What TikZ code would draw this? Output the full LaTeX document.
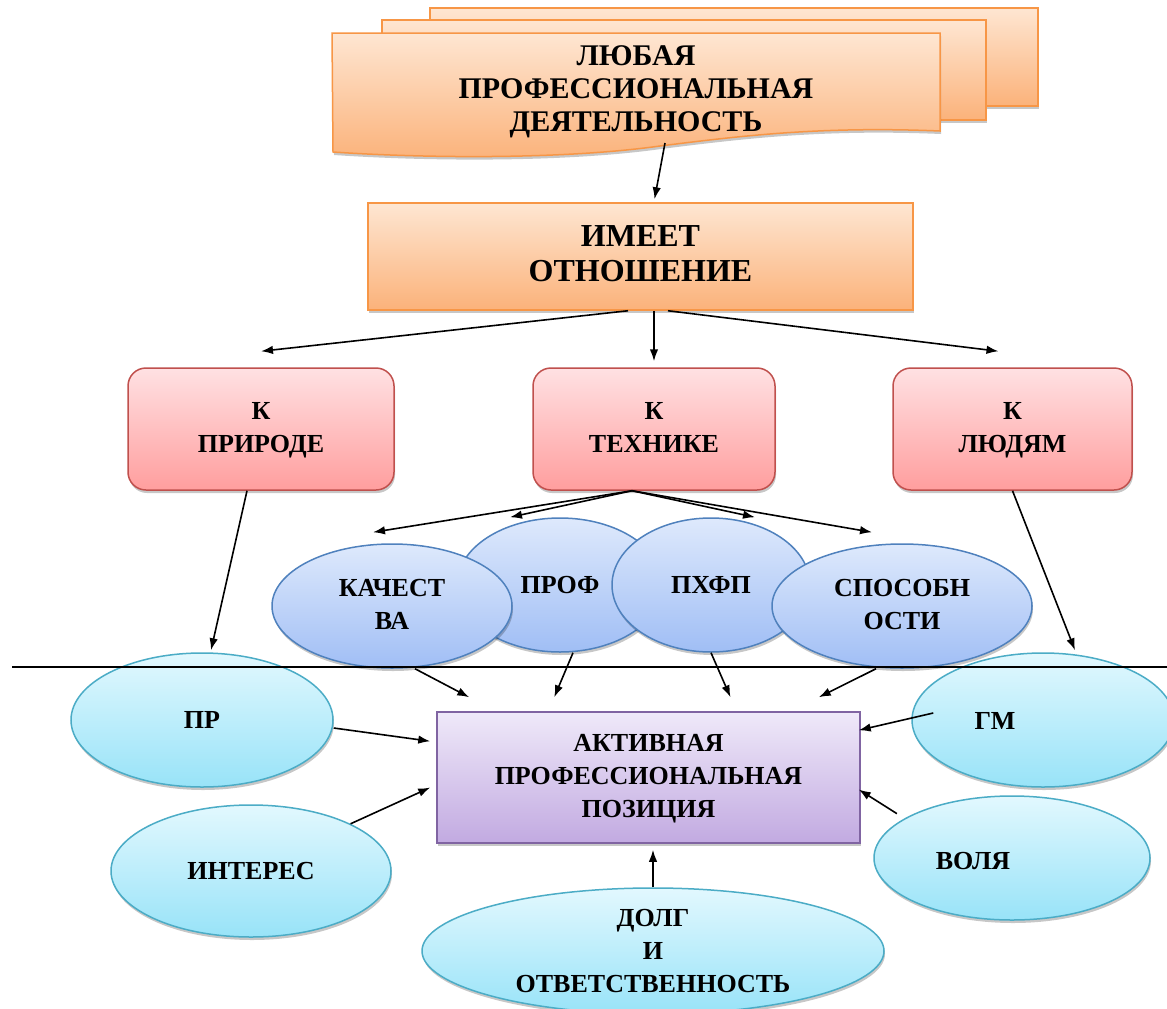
\documentclass[tikz,border=0pt]{standalone}
\usepackage{fontspec}
\setmainfont{Liberation Serif}
\usetikzlibrary{shapes.geometric,arrows.meta,shadows}

\definecolor{orgline}{HTML}{F79646}
\definecolor{orgtop}{HTML}{FEE6D2}
\definecolor{orgbot}{HTML}{FBB27A}
\definecolor{pinkline}{HTML}{C0504D}
\definecolor{pinktop}{HTML}{FFE1E3}
\definecolor{pinkbot}{HTML}{FF9E9E}
\definecolor{blueline}{HTML}{4F81BD}
\definecolor{bluetop}{HTML}{DEE9FC}
\definecolor{bluebot}{HTML}{A0BEF5}
\definecolor{cyanline}{HTML}{4BACC6}
\definecolor{cyantop}{HTML}{E2F8FE}
\definecolor{cyanbot}{HTML}{98E3F8}
\definecolor{violetline}{HTML}{8064A2}
\definecolor{violettop}{HTML}{EFE9F9}
\definecolor{violetbot}{HTML}{C2AAE1}

\tikzset{
  softshadow/.style={drop shadow={shadow xshift=1pt,shadow yshift=-3pt,opacity=.22,fill=black}},
  lbl/.style={font=\bfseries\fontsize{26}{33}\selectfont,align=center,inner sep=0pt},
  orangefill/.style={draw=orgline,line width=1.5pt,top color=orgtop,bottom color=orgbot,softshadow},
  orangebox/.style={orangefill,lbl,rectangle},
  pinkbox/.style={lbl,rectangle,rounded corners=18pt,draw=pinkline,line width=1.5pt,top color=pinktop,bottom color=pinkbot,softshadow,minimum height=122pt},
  blueoval/.style={lbl,ellipse,draw=blueline,line width=1.5pt,top color=bluetop,bottom color=bluebot,softshadow},
  cyanoval/.style={lbl,ellipse,draw=cyanline,line width=1.5pt,top color=cyantop,bottom color=cyanbot,softshadow},
  violetbox/.style={lbl,rectangle,draw=violetline,line width=1.5pt,top color=violettop,bottom color=violetbot,softshadow},
  arr/.style={-{Latex[length=12pt,width=8.5pt]},line width=1.6pt}
}

\begin{document}
\begin{tikzpicture}[x=1pt,y=-1pt]
\useasboundingbox (0,0) rectangle (1167,1009);
\fill[white] (0,0) rectangle (1167,1009);

\path[orangefill] (430,8) rectangle (1038,106);
\path[orangefill] (382,20) rectangle (986,120);
\path[orangefill] (332,33) -- (940,33) -- (940,131) .. controls (820,126) and (740,136) .. (660,146) .. controls (560,160) and (420,158) .. (333,152) -- cycle;
\node[lbl,font=\bfseries\fontsize{30}{33}\selectfont] (doc) at (636,92) {\strut ЛЮБАЯ\\ПРОФЕССИОНАЛЬНАЯ\\ДЕЯТЕЛЬНОСТЬ\strut};
\coordinate (docend) at (665,143);

\node[orangebox,font=\bfseries\fontsize{32}{35}\selectfont,minimum width=545pt,minimum height=107pt] (imeet) at (640.5,256.5) {\strut ИМЕЕТ\\ОТНОШЕНИЕ\strut};

\node[pinkbox,minimum width=266pt] (priroda) at (261,429) {\strut К\\ПРИРОДЕ\strut};
\node[pinkbox,minimum width=242pt] (tehnika) at (654,429) {\strut К\\ТЕХНИКЕ\strut};
\node[pinkbox,minimum width=239pt] (lyudi) at (1012.5,429) {\strut К\\ЛЮДЯМ\strut};

\node[blueoval,minimum width=206pt,minimum height=134pt] (prof) at (560,585) {ПРОФ};
\node[blueoval,minimum width=198pt,minimum height=134pt] (phfp) at (711,585) {ПХФП};
\node[blueoval,minimum width=240pt,minimum height=124pt] (kach) at (392,606) {\strut КАЧЕСТ\\ВА\strut};
\node[blueoval,minimum width=260pt,minimum height=124pt] (sposob) at (902,606) {\strut СПОСОБН\\ОСТИ\strut};

\node[cyanoval,minimum width=262pt,minimum height=134pt] (pr) at (202,720) {ПР};
\node[cyanoval,minimum width=262pt,minimum height=134pt] (gm) at (1043,720) {};
\node[lbl] (gmtext) at (995,721) {ГМ};
\node[cyanoval,minimum width=280pt,minimum height=132pt] (interes) at (251,871) {ИНТЕРЕС};
\node[cyanoval,minimum width=276pt,minimum height=124pt] (volya) at (1012,858) {};
\node[lbl] (volyatext) at (973,861) {ВОЛЯ};
\node[cyanoval,minimum width=462pt,minimum height=126pt] (dolg) at (653,951) {ДОЛГ\\И\\ОТВЕТСТВЕННОСТЬ};

\node[violetbox,minimum width=423pt,minimum height=131pt] (aktiv) at (648.5,777.5) {\strut АКТИВНАЯ\\ПРОФЕССИОНАЛЬНАЯ\\ПОЗИЦИЯ\strut};

\draw[arr] (docend) -- ([xshift=14pt,yshift=3pt]imeet.north);
\draw[arr] ([xshift=-26pt]imeet.south -| tehnika.north) -- ([yshift=16pt]priroda.north);
\draw[arr] (imeet.south -| tehnika.north) -- ([yshift=6pt]tehnika.north);
\draw[arr] ([xshift=14pt]imeet.south -| tehnika.north) -- ([xshift=-14pt,yshift=16pt]lyudi.north);

\draw[arr] ([xshift=-22pt]tehnika.south) -- ([xshift=-19pt,yshift=11pt]kach.north);
\draw[arr] ([xshift=-22pt]tehnika.south) -- ([xshift=-50pt]prof.north);
\draw[arr] ([xshift=-22pt]tehnika.south) -- ([xshift=44pt]phfp.north);
\draw[arr] ([xshift=-22pt]tehnika.south) -- ([xshift=-30pt,yshift=11pt]sposob.north);

\draw[arr] ([xshift=-14pt]priroda.south) -- ([xshift=9pt,yshift=2pt]pr.north);
\draw[arr] (lyudi.south) -- ([xshift=32pt,yshift=2pt]gm.north);

\draw[arr] ([xshift=23pt]kach.south) -- ([xshift=33pt,yshift=14pt]aktiv.north west);
\draw[arr] ([xshift=13pt]prof.south) -- ([xshift=118pt,yshift=14pt]aktiv.north west);
\draw[arr] (phfp.south) -- ([xshift=82pt,yshift=14pt]aktiv.north);
\draw[arr] ([xshift=-26pt]sposob.south) -- ([xshift=-42pt,yshift=14pt]aktiv.north east);
\draw[arr] ([yshift=-8pt]pr.east) -- ([xshift=-6pt,yshift=-30pt]aktiv.north west);
\draw[arr] (interes.north east) -- ([xshift=-6pt,yshift=-10pt]aktiv.west);
\draw[arr] ([xshift=22pt,yshift=7pt]gm.west) -- ([xshift=-2pt,yshift=-19pt]aktiv.north east);
\draw[arr] ([xshift=-17pt]volya.north west) -- ([xshift=-2pt,yshift=-12pt]aktiv.east);
\draw[arr] (dolg.north) -- ([yshift=-6pt]dolg.north |- aktiv.south);

\draw[line width=1.6pt] (12,667) -- (1167,667);
\end{tikzpicture}
\end{document}
